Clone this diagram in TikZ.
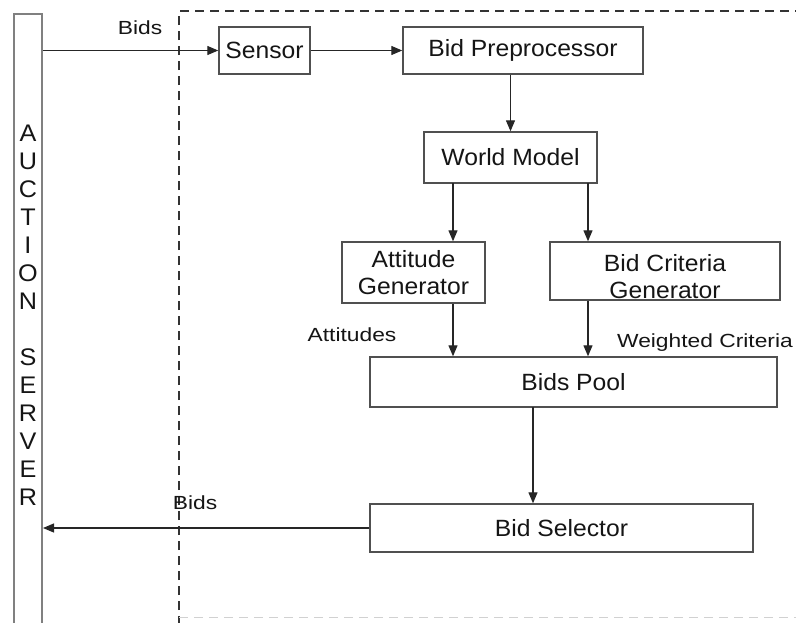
\documentclass[tikz,border=0pt]{standalone}
\usepackage{fontspec}
\setmainfont{Liberation Sans}[FakeStretch=1.05]
\newfontfamily\lblfont{Liberation Sans}[FakeStretch=1.2]
\usetikzlibrary{arrows.meta}
\definecolor{boxline}{HTML}{505050}
\definecolor{barline}{HTML}{808080}
\definecolor{txt}{HTML}{151515}
\tikzset{
  blk/.style={draw=boxline, line width=1.4pt, fill=white, inner sep=0pt, text=txt,
    font=\fontsize{23.5}{27}\selectfont, align=center},
  conn/.style={line width=1.2pt, draw=black!85, -{Triangle[length=11pt,width=9pt]}},
  lbl/.style={font=\lblfont\fontsize{19}{21}\selectfont, text=txt, inner sep=0pt},
  barletter/.style={font=\fontsize{24}{26}\selectfont, text=txt, inner sep=0pt},
}
\begin{document}
\begin{tikzpicture}[x=1pt,y=-1pt]
\useasboundingbox (0,0) rectangle (796,622);
% dashed agent boundary
\draw[dashed, line width=1.3pt, dash pattern=on 9pt off 6pt, black!80] (179,640) -- (179,11) -- (800,11);
\draw[dashed, line width=1pt, dash pattern=on 9pt off 6pt, black!18] (179,617) -- (800,617);
% auction server bar
\node[draw=barline, line width=2pt, minimum width=28pt, minimum height=640pt, anchor=north, inner sep=0pt] (server) at (28,13) {};
\foreach \l [count=\i] in {A,U,C,T,I,O,N}
  \node[barletter] (a\i) at (28,{133+28*(\i-1)}) {\l};
\foreach \l [count=\i] in {S,E,R,V,E,R}
  \node[barletter] (s\i) at (28,{357+28*(\i-1)}) {\l};
% blocks
\node[blk, minimum width=91pt, minimum height=47pt] (sensor) at (264.5,50.5) {Sensor};
\node[blk, minimum width=240pt, minimum height=47pt] (pre) at (523,50.5) {Bid Preprocessor};
\node[blk, minimum width=173pt, minimum height=51pt] (wm) at (510.5,157.5) {World Model};
\node[blk, minimum width=143pt, minimum height=61pt] (ag) at (413.5,272.5) {Attitude\\Generator};
\node[blk, minimum width=230pt, minimum height=58pt] (bcg) at (665,271) {};
\node[txt, font=\fontsize{23.5}{27}\selectfont, align=center, inner sep=0pt] (bcgtext) at (665,277) {Bid Criteria\\Generator};
\node[blk, minimum width=407pt, minimum height=50pt] (pool) at (573.5,382) {Bids Pool};
\node[blk, minimum width=383pt, minimum height=48pt] (sel) at (561.5,528) {Bid Selector};
% connectors
\draw[conn] (server.east |- sensor.west) -- (sensor.west);
\draw[conn] (sensor.east) -- (pre.west);
\draw[conn] (pre.south -| wm.north) -- (wm.north);
\coordinate (wmL) at (453,183);
\coordinate (wmR) at (588,183);
\draw[conn] (wmL) -- (wmL |- ag.north);
\draw[conn] (wmR) -- (wmR |- bcg.north);
\draw[conn] (wmL |- ag.south) -- (wmL |- pool.north);
\draw[conn] (wmR |- bcg.south) -- (wmR |- pool.north);
\coordinate (pc) at (533,407);
\draw[conn] (pc) -- (pc |- sel.north);
\draw[conn] (sel.west) -- (server.east |- sel.west);
% labels
\node[lbl] (bidsin) at (140,28) {Bids};
\node[lbl] (bidsout) at (195,503) {Bids};
\node[lbl] (att) at (352,335) {Attitudes};
\node[lbl] (wc) at (705,343) {Weighted Criteria};
\end{tikzpicture}
\end{document}
